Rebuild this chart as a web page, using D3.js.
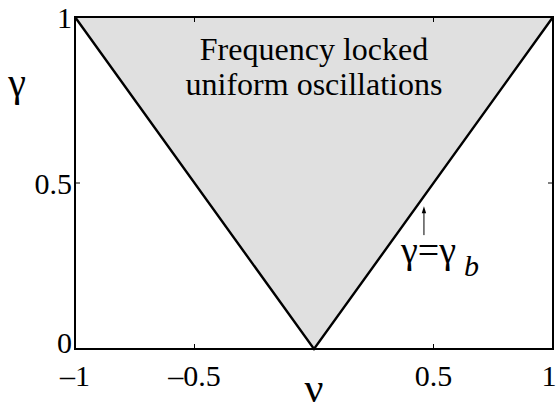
<!DOCTYPE html>
<html>
<head>
<meta charset="utf-8">
<script src="https://cdn.jsdelivr.net/npm/d3@7"></script>
<style>
  html, body { margin: 0; padding: 0; background: #fff; }
  text { font-family: "Liberation Serif", "Times New Roman", serif; }
</style>
</head>
<body>
<svg id="chart" width="558" height="410"></svg>
<script>
// Boundary of the frequency-locked region: gamma = gamma_b(nu) = |nu|
const boundaryNu = [-1, 0, 1];
const boundaryGamma = [1, 0, 1];
const xTicks = [-1, -0.5, 0.5, 1];
const xTickLabels = ["\u20131", "\u20130.5", "0.5", "1"];
const yTicks = [0, 0.5, 1];
const yTickLabels = ["0", "0.5", "1"];
const regionLabel = ["Frequency locked", "uniform oscillations"];
const arrowNu = 0.46;
const arrowGamma = [0.43, 0.34];

const svg = d3.select("#chart");
const m = { left: 75, right: 5, top: 17, bottom: 61 };
const W = 558, H = 410;
const x = d3.scaleLinear().domain([-1, 1]).range([m.left, W - m.right]);
const y = d3.scaleLinear().domain([0, 1]).range([H - m.bottom, m.top]);

const pts = boundaryNu.map((v, i) => [x(v), y(boundaryGamma[i])]);

// shaded region
svg.append("path")
  .attr("d", d3.line()(pts) + "Z")
  .attr("fill", "#e0e0e0")
  .attr("stroke", "none");

// ticks (inward, on all four sides)
const tl = 5;
const tickG = svg.append("g").attr("stroke", "#000").attr("stroke-width", 1);
[-0.5, 0.5].forEach(v => {
  tickG.append("line").attr("x1", x(v)).attr("x2", x(v)).attr("y1", y(0)).attr("y2", y(0) - tl);
  tickG.append("line").attr("x1", x(v)).attr("x2", x(v)).attr("y1", y(1)).attr("y2", y(1) + tl);
});
[0.5].forEach(v => {
  tickG.append("line").attr("x1", x(-1)).attr("x2", x(-1) + tl).attr("y1", y(v)).attr("y2", y(v));
  tickG.append("line").attr("x1", x(1)).attr("x2", x(1) - tl).attr("y1", y(v)).attr("y2", y(v));
});

// axes box
svg.append("rect")
  .attr("x", x(-1)).attr("y", y(1))
  .attr("width", x(1) - x(-1)).attr("height", y(0) - y(1))
  .attr("fill", "none").attr("stroke", "#000").attr("stroke-width", 2);

// boundary lines
svg.append("path")
  .attr("d", d3.line()(pts))
  .attr("fill", "none").attr("stroke", "#000").attr("stroke-width", 2.4);

// all labels share one text group
const txt = svg.append("g").attr("fill", "#000");

// tick labels
const fs = 30;
xTicks.forEach((v, i) => {
  const px = Math.min(x(v), W - 9);
  txt.append("text").attr("x", px).attr("y", y(0) + 37)
    .attr("text-anchor", "middle").attr("font-size", fs).text(xTickLabels[i]);
});
yTicks.forEach((v, i) => {
  txt.append("text").attr("x", x(-1) - 3).attr("y", y(v) + (v === 0 ? 4 : 11))
    .attr("text-anchor", "end").attr("font-size", fs).text(yTickLabels[i]);
});

// axis labels
txt.append("text").attr("x", x(0)).attr("y", 402).attr("text-anchor", "middle")
  .attr("font-size", 42).text("\u03bd");
txt.append("text").attr("x", 17).attr("y", 96).attr("text-anchor", "middle")
  .attr("font-size", 40).text("\u03b3");

// region label
regionLabel.forEach((s, i) => {
  txt.append("text").attr("x", x(0)).attr("y", 60 + i * 35)
    .attr("text-anchor", "middle").attr("font-size", 32).text(s);
});

// arrow pointing to the boundary
const ax = x(arrowNu);
svg.append("line").attr("x1", ax).attr("x2", ax)
  .attr("y1", y(arrowGamma[1]) - 1).attr("y2", y(arrowGamma[0]) + 4)
  .attr("stroke", "#000").attr("stroke-width", 1);
svg.append("path")
  .attr("d", `M${ax},${y(arrowGamma[0])} l-2.2,7 l4.4,0 Z`)
  .attr("fill", "#000");

const lab = txt.append("text").attr("x", 401).attr("y", 263).attr("font-size", 38);
lab.append("tspan").text("\u03b3=\u03b3");
lab.append("tspan").attr("dx", 8).attr("dy", 13).attr("font-style", "italic").attr("font-size", 30).text("b");
</script>
</body>
</html>
